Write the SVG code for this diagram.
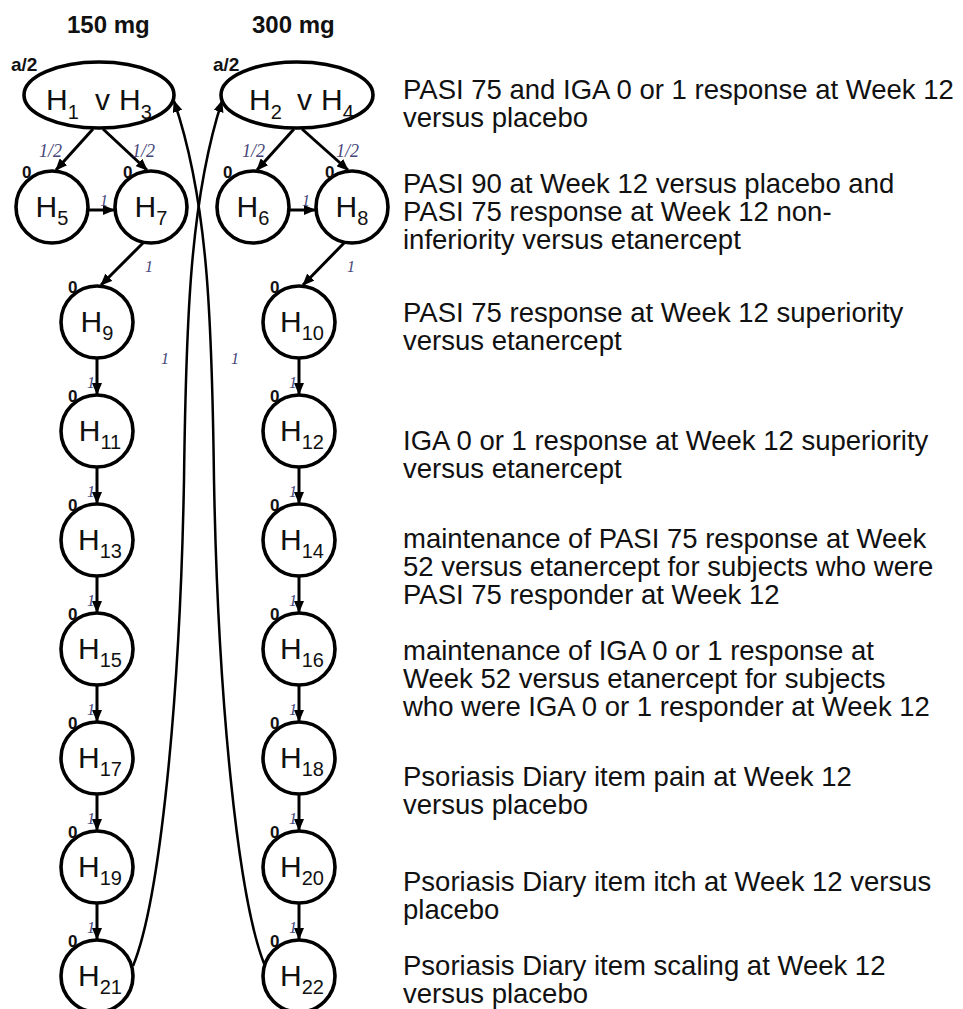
<svg xmlns="http://www.w3.org/2000/svg" width="963" height="1009" viewBox="0 0 963 1009">
<style>
.nd{fill:#fff;stroke:#000;stroke-width:3.6}
.lb{font-family:"Liberation Sans",Arial,sans-serif;font-size:30px;fill:#111;text-anchor:middle}
.lbs{font-family:"Liberation Sans",Arial,sans-serif;font-size:30px;fill:#111}
.sb{font-size:20px}
.ed{fill:none;stroke:#000;stroke-width:3;marker-end:url(#ah)}
.cv{fill:none;stroke:#000;stroke-width:2.5;marker-end:url(#ah)}
.w{font-family:"Liberation Serif","Times New Roman",serif;font-style:italic;font-size:16px;fill:#46467a}
.wh{font-family:"Liberation Serif","Times New Roman",serif;font-style:italic;font-size:18px;fill:#46467a}
.z{font-family:"Liberation Sans",Arial,sans-serif;font-weight:bold;font-size:17px;fill:#111}
.hd{font-family:"Liberation Sans",Arial,sans-serif;font-weight:bold;font-size:24px;fill:#111}
.al{font-family:"Liberation Sans",Arial,sans-serif;font-weight:bold;font-size:19px;fill:#111}
.tx{font-family:"Liberation Sans",Arial,sans-serif;font-size:27.5px;fill:#111}
</style>
<defs>
<marker id="ah" markerUnits="userSpaceOnUse" markerWidth="12" markerHeight="10" refX="11" refY="5" orient="auto">
<path d="M0,0 L12,5 L0,10 z" fill="#000"/>
</marker>
</defs>

<text class="hd" x="67" y="33">150 mg</text>
<text class="hd" x="252" y="33">300 mg</text>

<g id="connectors">
<path class="ed" d="M93,129 L56,170"/>
<path class="ed" d="M103,129 L147,170"/>
<path class="ed" d="M294,129 L257,170"/>
<path class="ed" d="M302,129 L348,170"/>
<path class="ed" d="M88,210 L114,210"/>
<path class="ed" d="M289,210 L315,210"/>
<path class="ed" d="M144,242 L101,285"/>
<path class="ed" d="M345,242 L303,285"/>
<path class="ed" d="M97,358 L97,394"/>
<path class="ed" d="M97,467 L97,503"/>
<path class="ed" d="M97,576 L97,612"/>
<path class="ed" d="M97,685 L97,721"/>
<path class="ed" d="M97,794 L97,830"/>
<path class="ed" d="M97,903 L97,939"/>
<path class="ed" d="M299,358 L299,394"/>
<path class="ed" d="M299,467 L299,503"/>
<path class="ed" d="M299,576 L299,612"/>
<path class="ed" d="M299,685 L299,721"/>
<path class="ed" d="M299,794 L299,830"/>
<path class="ed" d="M299,903 L299,939"/>
<path class="cv" d="M133,966 C160,900 180,700 184,480 C186,320 190,200 222,101"/>
<path class="cv" d="M265,966 C238,900 218,700 214,480 C212,320 208,200 174,101"/>
<text class="wh" x="39" y="157">1/2</text>
<text class="wh" x="132" y="157">1/2</text>
<text class="wh" x="242" y="157">1/2</text>
<text class="wh" x="336" y="157">1/2</text>
<text class="w" x="100" y="206">1</text>
<text class="w" x="302" y="206">1</text>
<text class="w" x="145" y="272">1</text>
<text class="w" x="347" y="272">1</text>
<text class="w" x="161" y="364">1</text>
<text class="w" x="231" y="364">1</text>
<text class="w" x="87" y="388">1</text>
<text class="w" x="87" y="497">1</text>
<text class="w" x="87" y="606">1</text>
<text class="w" x="87" y="715">1</text>
<text class="w" x="87" y="824">1</text>
<text class="w" x="87" y="933">1</text>
<text class="w" x="289" y="388">1</text>
<text class="w" x="289" y="497">1</text>
<text class="w" x="289" y="606">1</text>
<text class="w" x="289" y="715">1</text>
<text class="w" x="289" y="824">1</text>
<text class="w" x="289" y="933">1</text>
</g>

<g id="n-h1h3">
<ellipse class="nd" cx="99" cy="95" rx="75" ry="33"/>
<text class="al" x="11" y="71">a/2</text>
<text class="lbs" y="110"><tspan x="46">H</tspan><tspan class="sb" dy="9">1</tspan><tspan x="95" dy="-9">v</tspan><tspan x="119">H</tspan><tspan class="sb" dy="9">3</tspan></text>
</g>
<g id="n-h2h4">
<ellipse class="nd" cx="297" cy="95" rx="76" ry="33"/>
<text class="al" x="213" y="71">a/2</text>
<text class="lbs" y="110"><tspan x="249">H</tspan><tspan class="sb" dy="9">2</tspan><tspan x="297" dy="-9">v</tspan><tspan x="321">H</tspan><tspan class="sb" dy="9">4</tspan></text>
</g>

<g id="n-h5"><circle class="nd" cx="52" cy="207" r="36"/><text class="z" x="22" y="178">0</text><text class="lb" x="52" y="217">H<tspan class="sb" dy="8">5</tspan></text></g>
<g id="n-h7"><circle class="nd" cx="151" cy="207" r="36"/><text class="z" x="123" y="178">0</text><text class="lb" x="151" y="217">H<tspan class="sb" dy="8">7</tspan></text></g>
<g id="n-h6"><circle class="nd" cx="253" cy="207" r="36"/><text class="z" x="223" y="178">0</text><text class="lb" x="253" y="217">H<tspan class="sb" dy="8">6</tspan></text></g>
<g id="n-h8"><circle class="nd" cx="352" cy="207" r="36"/><text class="z" x="325" y="178">0</text><text class="lb" x="352" y="217">H<tspan class="sb" dy="8">8</tspan></text></g>

<g id="n-h9"><circle class="nd" cx="97" cy="322" r="36"/><text class="z" x="68" y="293">0</text><text class="lb" x="97" y="332">H<tspan class="sb" dy="8">9</tspan></text></g>
<g id="n-h11"><circle class="nd" cx="97" cy="431" r="36"/><text class="z" x="68" y="402">0</text><text class="lb" x="100" y="441">H<tspan class="sb" dy="8">11</tspan></text></g>
<g id="n-h13"><circle class="nd" cx="97" cy="540" r="36"/><text class="z" x="68" y="511">0</text><text class="lb" x="100" y="550">H<tspan class="sb" dy="8">13</tspan></text></g>
<g id="n-h15"><circle class="nd" cx="97" cy="649" r="36"/><text class="z" x="68" y="620">0</text><text class="lb" x="100" y="659">H<tspan class="sb" dy="8">15</tspan></text></g>
<g id="n-h17"><circle class="nd" cx="97" cy="758" r="36"/><text class="z" x="68" y="729">0</text><text class="lb" x="100" y="768">H<tspan class="sb" dy="8">17</tspan></text></g>
<g id="n-h19"><circle class="nd" cx="97" cy="867" r="36"/><text class="z" x="68" y="838">0</text><text class="lb" x="100" y="877">H<tspan class="sb" dy="8">19</tspan></text></g>
<g id="n-h21"><circle class="nd" cx="97" cy="976" r="36"/><text class="z" x="68" y="947">0</text><text class="lb" x="100" y="986">H<tspan class="sb" dy="8">21</tspan></text></g>

<g id="n-h10"><circle class="nd" cx="299" cy="322" r="36"/><text class="z" x="270" y="293">0</text><text class="lb" x="302" y="332">H<tspan class="sb" dy="8">10</tspan></text></g>
<g id="n-h12"><circle class="nd" cx="299" cy="431" r="36"/><text class="z" x="270" y="402">0</text><text class="lb" x="302" y="441">H<tspan class="sb" dy="8">12</tspan></text></g>
<g id="n-h14"><circle class="nd" cx="299" cy="540" r="36"/><text class="z" x="270" y="511">0</text><text class="lb" x="302" y="550">H<tspan class="sb" dy="8">14</tspan></text></g>
<g id="n-h16"><circle class="nd" cx="299" cy="649" r="36"/><text class="z" x="270" y="620">0</text><text class="lb" x="302" y="659">H<tspan class="sb" dy="8">16</tspan></text></g>
<g id="n-h18"><circle class="nd" cx="299" cy="758" r="36"/><text class="z" x="270" y="729">0</text><text class="lb" x="302" y="768">H<tspan class="sb" dy="8">18</tspan></text></g>
<g id="n-h20"><circle class="nd" cx="299" cy="867" r="36"/><text class="z" x="270" y="838">0</text><text class="lb" x="302" y="877">H<tspan class="sb" dy="8">20</tspan></text></g>
<g id="n-h22"><circle class="nd" cx="299" cy="976" r="36"/><text class="z" x="270" y="947">0</text><text class="lb" x="302" y="986">H<tspan class="sb" dy="8">22</tspan></text></g>

<g id="descriptions" class="tx">
<text x="403" y="99">PASI 75 and IGA 0 or 1 response at Week 12</text>
<text x="403" y="127">versus placebo</text>
<text x="403" y="193">PASI 90 at Week 12 versus placebo and</text>
<text x="403" y="221">PASI 75 response at Week 12 non-</text>
<text x="403" y="249">inferiority versus etanercept</text>
<text x="403" y="322">PASI 75 response at Week 12 superiority</text>
<text x="403" y="350">versus etanercept</text>
<text x="403" y="450">IGA 0 or 1 response at Week 12 superiority</text>
<text x="403" y="478">versus etanercept</text>
<text x="403" y="548">maintenance of PASI 75 response at Week</text>
<text x="403" y="576">52 versus etanercept for subjects who were</text>
<text x="403" y="604">PASI 75 responder at Week 12</text>
<text x="403" y="660">maintenance of IGA 0 or 1 response at</text>
<text x="403" y="688">Week 52 versus etanercept for subjects</text>
<text x="403" y="716">who were IGA 0 or 1 responder at Week 12</text>
<text x="403" y="786">Psoriasis Diary item pain at Week 12</text>
<text x="403" y="814">versus placebo</text>
<text x="403" y="891">Psoriasis Diary item itch at Week 12 versus</text>
<text x="403" y="919">placebo</text>
<text x="403" y="975">Psoriasis Diary item scaling at Week 12</text>
<text x="403" y="1003">versus placebo</text>
</g>
</svg>
